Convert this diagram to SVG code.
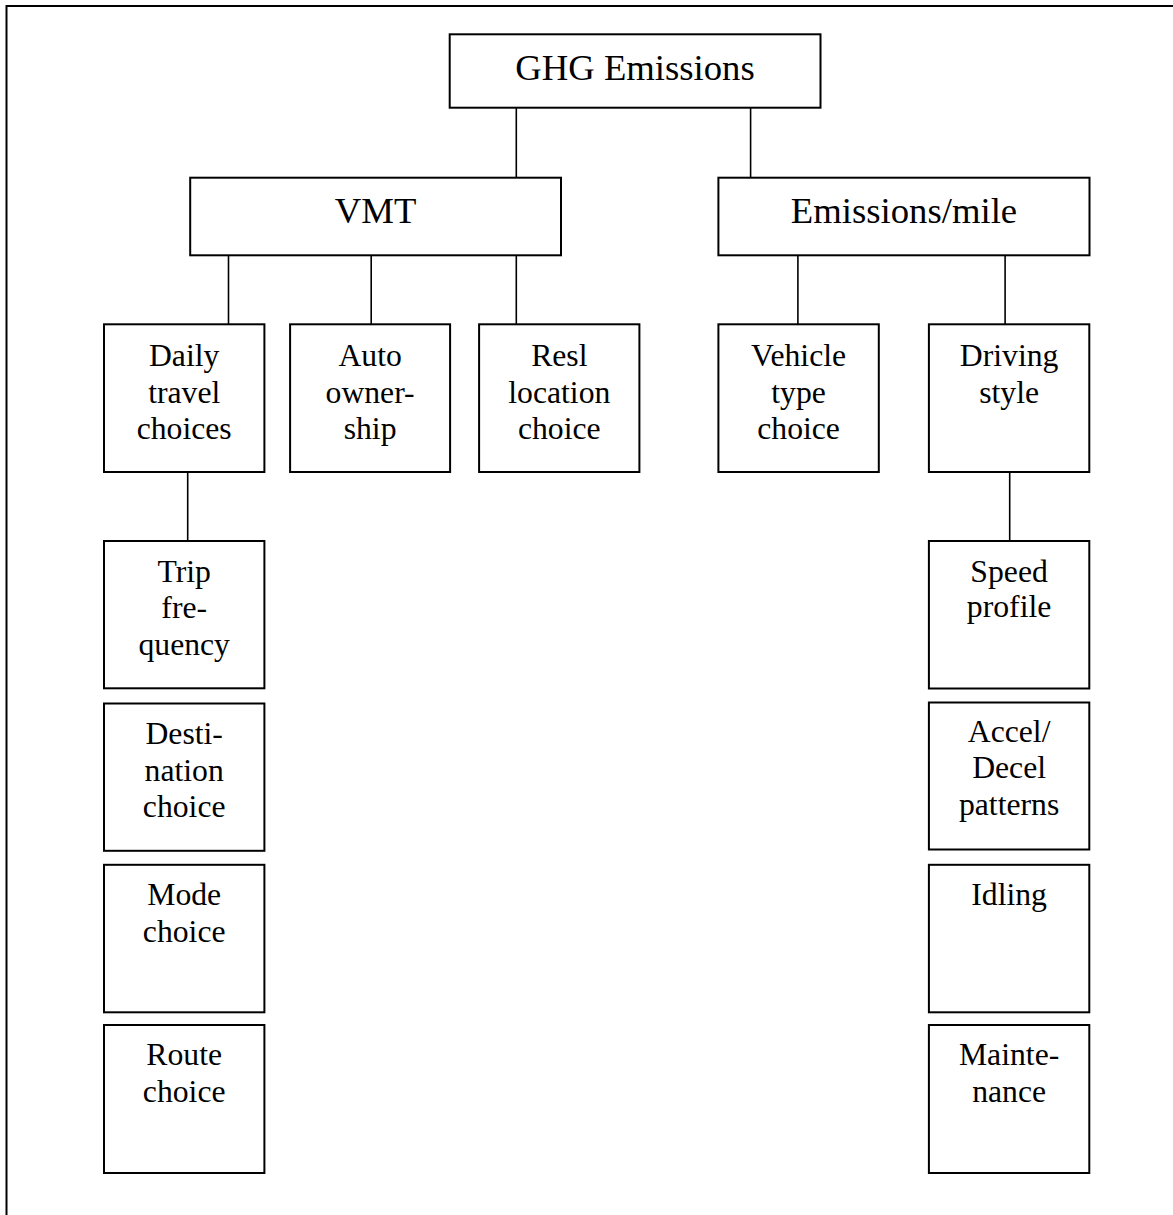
<svg xmlns="http://www.w3.org/2000/svg" width="1173" height="1215" viewBox="0 0 1173 1215">
<style>
.box{fill:#fff;stroke:#000;stroke-width:2}
.frame{fill:none;stroke:#000;stroke-width:2}
.con line{stroke:#000;stroke-width:1.6}
text{font-family:"Liberation Serif","Times New Roman",serif;fill:#000;text-anchor:middle}
.big{font-size:36.7px}
.sm{font-size:31.7px}
</style>
<rect width="1173" height="1215" fill="#fff"/>
<path class="frame" d="M6.5,1215 V6 H1173"/>
<g id="connectors" class="con">
<line x1="516.3" y1="107.7" x2="516.3" y2="177.7"/>
<line x1="750.6" y1="107.7" x2="750.6" y2="177.7"/>
<line x1="228.5" y1="255.3" x2="228.5" y2="324.3"/>
<line x1="371.2" y1="255.3" x2="371.2" y2="324.3"/>
<line x1="516.3" y1="255.3" x2="516.3" y2="324.3"/>
<line x1="797.9" y1="255.3" x2="797.9" y2="324.3"/>
<line x1="1005.1" y1="255.3" x2="1005.1" y2="324.3"/>
<line x1="187.7" y1="472" x2="187.7" y2="541"/>
<line x1="1009.7" y1="470" x2="1009.7" y2="541"/>
</g>
<g id="ghg"><rect class="box" x="449.7" y="34.3" width="370.8" height="73.4"/><text class="big" x="635" y="80">GHG Emissions</text></g>
<g id="vmt"><rect class="box" x="190.2" y="177.7" width="370.8" height="77.6"/><text class="big" x="375.6" y="222.7">VMT</text></g>
<g id="emissions-mile"><rect class="box" x="718.4" y="177.7" width="371.1" height="77.6"/><text class="big" x="904" y="222.7">Emissions/mile</text></g>
<g id="daily"><rect class="box" x="104" y="324.3" width="160.4" height="147.7"/><text class="sm" x="184.2"><tspan x="184.2" y="366">Daily</tspan><tspan x="184.2" y="402.7">travel</tspan><tspan x="184.2" y="439.3">choices</tspan></text></g>
<g id="auto"><rect class="box" x="290.1" y="324.3" width="160" height="147.7"/><text class="sm"><tspan x="370.1" y="366">Auto</tspan><tspan x="370.1" y="402.7">owner-</tspan><tspan x="370.1" y="439.3">ship</tspan></text></g>
<g id="resl"><rect class="box" x="479.1" y="324.3" width="160.3" height="147.7"/><text class="sm"><tspan x="559.3" y="366">Resl</tspan><tspan x="559.3" y="402.7">location</tspan><tspan x="559.3" y="439.3">choice</tspan></text></g>
<g id="vehicle"><rect class="box" x="718.4" y="324.3" width="160.4" height="147.7"/><text class="sm"><tspan x="798.6" y="366">Vehicle</tspan><tspan x="798.6" y="402.7">type</tspan><tspan x="798.6" y="439.3">choice</tspan></text></g>
<g id="driving"><rect class="box" x="928.9" y="324.3" width="160.4" height="147.7"/><text class="sm"><tspan x="1009.1" y="366">Driving</tspan><tspan x="1009.1" y="402.7">style</tspan></text></g>
<g id="trip"><rect class="box" x="104" y="541" width="160.4" height="147.3"/><text class="sm"><tspan x="184.2" y="581.7">Trip</tspan><tspan x="184.2" y="618.3">fre-</tspan><tspan x="184.2" y="655">quency</tspan></text></g>
<g id="destination"><rect class="box" x="104" y="703.5" width="160.4" height="147.3"/><text class="sm"><tspan x="184.2" y="744">Desti-</tspan><tspan x="184.2" y="780.7">nation</tspan><tspan x="184.2" y="817.3">choice</tspan></text></g>
<g id="mode"><rect class="box" x="104" y="864.8" width="160.4" height="147.5"/><text class="sm"><tspan x="184.2" y="905">Mode</tspan><tspan x="184.2" y="941.7">choice</tspan></text></g>
<g id="route"><rect class="box" x="104" y="1025" width="160.4" height="148"/><text class="sm"><tspan x="184.2" y="1065">Route</tspan><tspan x="184.2" y="1101.7">choice</tspan></text></g>
<g id="speed"><rect class="box" x="928.9" y="541" width="160.4" height="147.5"/><text class="sm"><tspan x="1009.1" y="581.7">Speed</tspan><tspan x="1009.1" y="616.7">profile</tspan></text></g>
<g id="accel"><rect class="box" x="928.9" y="702.5" width="160.4" height="147"/><text class="sm"><tspan x="1009.1" y="741.7">Accel/</tspan><tspan x="1009.1" y="778.3">Decel</tspan><tspan x="1009.1" y="815">patterns</tspan></text></g>
<g id="idling"><rect class="box" x="928.9" y="864.8" width="160.4" height="147.5"/><text class="sm"><tspan x="1009.1" y="905">Idling</tspan></text></g>
<g id="maintenance"><rect class="box" x="928.9" y="1025" width="160.4" height="148"/><text class="sm"><tspan x="1009.1" y="1065">Mainte-</tspan><tspan x="1009.1" y="1101.7">nance</tspan></text></g>
</svg>
